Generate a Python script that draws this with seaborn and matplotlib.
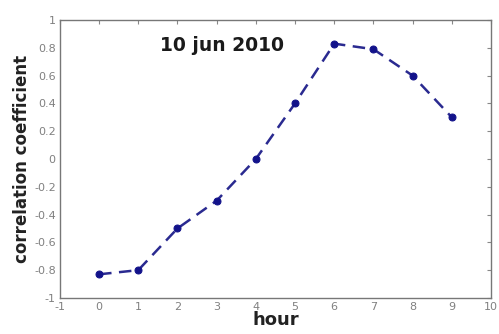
import matplotlib
matplotlib.use("Agg")
import matplotlib.pyplot as plt
import seaborn as sns
import pandas as pd

hours = [0, 1, 2, 3, 4, 5, 6, 7, 8, 9]
corr = [-0.83, -0.80, -0.50, -0.30, 0.00, 0.40, 0.83, 0.79, 0.60, 0.30]
xticks = list(range(-1, 11))
yticks = [-1, -0.8, -0.6, -0.4, -0.2, 0, 0.2, 0.4, 0.6, 0.8, 1]
ytick_labels = ["-1", "-0.8", "-0.6", "-0.4", "-0.2", "0", "0.2", "0.4", "0.6", "0.8", "1"]
title_text = "10 jun 2010"

sns.set_style("white")
plt.rcParams['font.family'] = ['DejaVu Sans']

df = pd.DataFrame({"hour": hours, "corr": corr})
fig = plt.figure(figsize=(4.99, 3.34), dpi=100)
ax = fig.add_axes([0.120, 0.108, 0.864, 0.832])
sns.lineplot(data=df, x="hour", y="corr", ax=ax, color="#2a2a90",
             linestyle=(0, (5, 3)), linewidth=1.8, marker="o", markersize=5,
             markeredgecolor="#12128a", markerfacecolor="#12128a")
ax.set_xlim(-1, 10)
ax.set_ylim(-1, 1)
ax.set_xticks(xticks)
ax.set_xticklabels([str(t) for t in xticks])
ax.set_yticks(yticks)
ax.set_yticklabels(ytick_labels)
ax.tick_params(direction="in", top=True, right=True, length=3, width=0.8,
               colors="#888888", labelsize=8, labelcolor="#808080", pad=3)
for s in ax.spines.values():
    s.set_color("#777777")
    s.set_linewidth(1.0)
ax.set_xlabel("hour", fontsize=13, fontweight="bold", color="#222222", labelpad=-1)
ax.set_ylabel("correlation coefficient", fontsize=12, fontweight="bold", color="#222222", labelpad=2)
ax.text(1.55, 0.82, title_text, fontsize=13.5, fontweight="bold", color="#1a1a1a", va="center", ha="left")
fig.savefig("out.png", dpi=100)
